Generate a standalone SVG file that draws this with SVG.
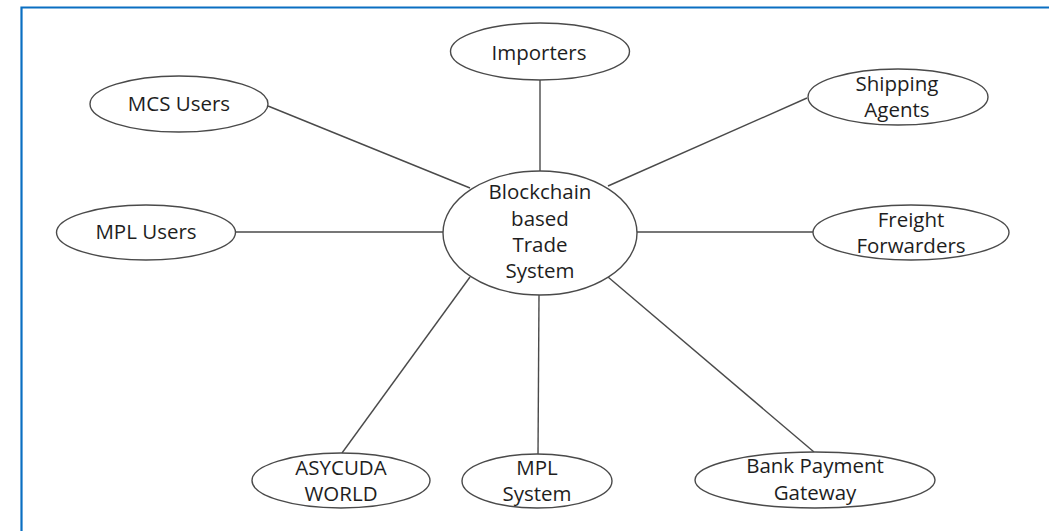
<svg xmlns="http://www.w3.org/2000/svg" width="1049" height="531" viewBox="0 0 1049 531">
<style>
.n ellipse{fill:#fff;stroke:#4a4a4a;stroke-width:1.4}
.n text{font-family:"Open Sans","Liberation Sans",sans-serif;font-size:20.5px;fill:#1e1e1e;text-anchor:middle}
#connectors line{stroke:#4a4a4a;stroke-width:1.4}
</style>
<rect x="0" y="0" width="1049" height="531" fill="#fff"/>
<path d="M21.5 531 V7.5 H1049" fill="none" stroke="#0a6fc2" stroke-width="2.2"/>
<g id="connectors">
<line x1="268" y1="106" x2="470" y2="188"/>
<line x1="236" y1="232" x2="443" y2="232"/>
<line x1="540" y1="80" x2="540" y2="171"/>
<line x1="807" y1="98" x2="608" y2="186"/>
<line x1="813" y1="232" x2="636" y2="232"/>
<line x1="342" y1="453" x2="470" y2="277"/>
<line x1="538" y1="455" x2="539" y2="295"/>
<line x1="814" y1="452" x2="608" y2="277"/>
</g>
<g id="center" class="n"><ellipse cx="540" cy="233" rx="97" ry="62"/>
<text x="540" y="199">Blockchain</text><text x="540" y="226">based</text><text x="540" y="252">Trade</text><text x="540" y="278">System</text></g>
<g id="mcs-users" class="n"><ellipse cx="179" cy="104" rx="89" ry="28"/><text x="179" y="111">MCS Users</text></g>
<g id="mpl-users" class="n"><ellipse cx="146" cy="232.5" rx="89.5" ry="27.5"/><text x="146" y="239">MPL Users</text></g>
<g id="importers" class="n"><ellipse cx="540" cy="51.5" rx="89.5" ry="28.5"/><text x="539" y="60">Importers</text></g>
<g id="shipping-agents" class="n"><ellipse cx="898" cy="97" rx="90" ry="28"/><text x="897" y="91">Shipping</text><text x="897" y="117">Agents</text></g>
<g id="freight-forwarders" class="n"><ellipse cx="911" cy="232.5" rx="98" ry="27.5"/><text x="911" y="227">Freight</text><text x="911" y="253">Forwarders</text></g>
<g id="asycuda-world" class="n"><ellipse cx="341" cy="480.5" rx="89" ry="27.5"/><text x="341" y="475">ASYCUDA</text><text x="341" y="501">WORLD</text></g>
<g id="mpl-system" class="n"><ellipse cx="537" cy="481" rx="75" ry="27"/><text x="537" y="475">MPL</text><text x="537" y="501">System</text></g>
<g id="bank-payment-gateway" class="n"><ellipse cx="815" cy="480" rx="120" ry="28"/><text x="815" y="473">Bank Payment</text><text x="815" y="500">Gateway</text></g>
</svg>
